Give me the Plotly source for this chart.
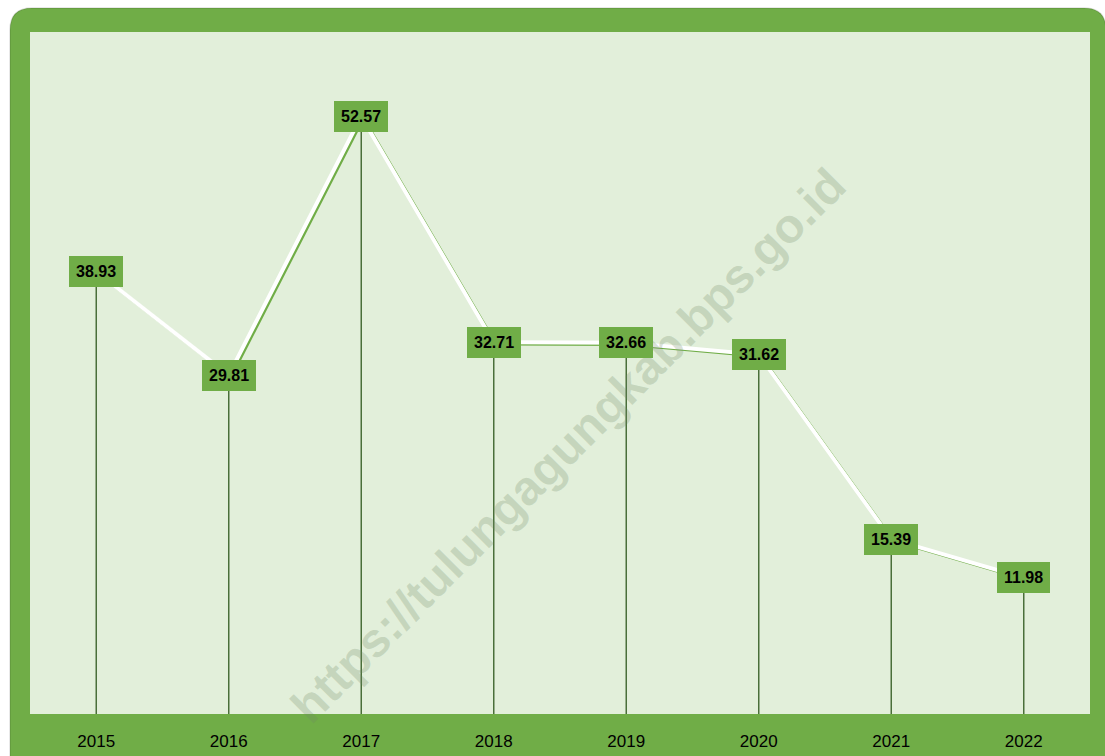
import plotly.graph_objects as go

years = ["2015", "2016", "2017", "2018", "2019", "2020", "2021", "2022"]
values = [38.93, 29.81, 52.57, 32.71, 32.66, 31.62, 15.39, 11.98]
value_labels = ["38.93", "29.81", "52.57", "32.71", "32.66", "31.62", "15.39", "11.98"]

GREEN = "#70AD47"
LIGHT = "#E2EFDA"
DARK = "#4A6F3A"

W, H = 1105, 756
L, T = 30, 32
R = W - 1090
B = H - 714
PW, PH = W - L - R, H - T - B

def px(p):  # screen pixel -> paper x
    return (p - L) / PW

def py(p):  # screen pixel -> paper y
    return (H - B - p) / PH

fig = go.Figure()

# green shadow line on the (slightly offset) base axes
fig.add_trace(go.Scatter(
    x=years, y=values, mode="lines", xaxis="x", yaxis="y",
    line=dict(color=GREEN, width=3), hoverinfo="skip", showlegend=False,
))
# drop lines
fig.add_trace(go.Scatter(
    x=years, y=values, mode="markers", xaxis="x2", yaxis="y2",
    marker=dict(size=1, color="rgba(0,0,0,0)"),
    error_y=dict(type="data", symmetric=False, array=[0] * len(values),
                 arrayminus=values, color=DARK, thickness=1.5, width=0),
    hoverinfo="skip", showlegend=False,
))
# white line
fig.add_trace(go.Scatter(
    x=years, y=values, mode="lines", xaxis="x2", yaxis="y2",
    line=dict(color="white", width=4), showlegend=False,
))

# frame shapes
l0, t0, r0, b0 = px(10), py(8), px(1106), py(770)
rx, ry = 22 / PW, 22 / PH
frame_path = (f"M {l0},{b0} L {l0},{t0 - ry} Q {l0},{t0} {l0 + rx},{t0} "
              f"L {r0 - rx},{t0} Q {r0},{t0} {r0},{t0 - ry} L {r0},{b0} Z")
fig.add_shape(type="path", path=frame_path, xref="paper", yref="paper",
              fillcolor=GREEN, line=dict(color="rgba(0,0,0,0.12)", width=1.5),
              layer="below")
fig.add_shape(type="rect", x0=0, x1=1, y0=0, y1=1, xref="paper", yref="paper",
              fillcolor=LIGHT, line=dict(width=0), layer="below")

# watermark
fig.add_annotation(
    text="https://tulungagungkab.bps.go.id", xref="paper", yref="paper",
    x=px(568), y=py(445), showarrow=False, textangle=-45,
    font=dict(family="Liberation Sans", size=48, color="rgba(110,135,100,0.25)", weight="bold"),
)

# value labels
for i, (v, lab) in enumerate(zip(values, value_labels)):
    fig.add_annotation(
        x=i, y=v, xref="x2", yref="y2", text=f"<b>{lab}</b>", showarrow=False,
        bgcolor=GREEN, borderpad=7, borderwidth=0,
        font=dict(family="Liberation Sans", size=16, color="black"),
        xanchor="center", yanchor="middle",
    )

fig.update_layout(
    width=W, height=H,
    margin=dict(l=L, r=R, t=T, b=B, autoexpand=False),
    paper_bgcolor="white", plot_bgcolor="rgba(0,0,0,0)",
    showlegend=False,
    xaxis=dict(type="category", range=[-0.516, 7.484], visible=False,
               showgrid=False, zeroline=False, automargin=False),
    yaxis=dict(range=[0.15, 60.15], visible=False, showgrid=False, zeroline=False,
               automargin=False),
    xaxis2=dict(type="category", range=[-0.5, 7.5], overlaying="x", side="bottom",
                showgrid=False, zeroline=False, showline=False, automargin=False,
                ticks="outside", ticklen=12, tickcolor="rgba(0,0,0,0)",
                tickfont=dict(family="Liberation Sans", size=17, color="black")),
    yaxis2=dict(range=[0, 60], overlaying="y", visible=False, automargin=False),
)

fig.write_html(
    "out.html",
    config={"displayModeBar": False},
    post_script="document.body.style.margin='0';document.body.style.overflow='hidden';",
)
